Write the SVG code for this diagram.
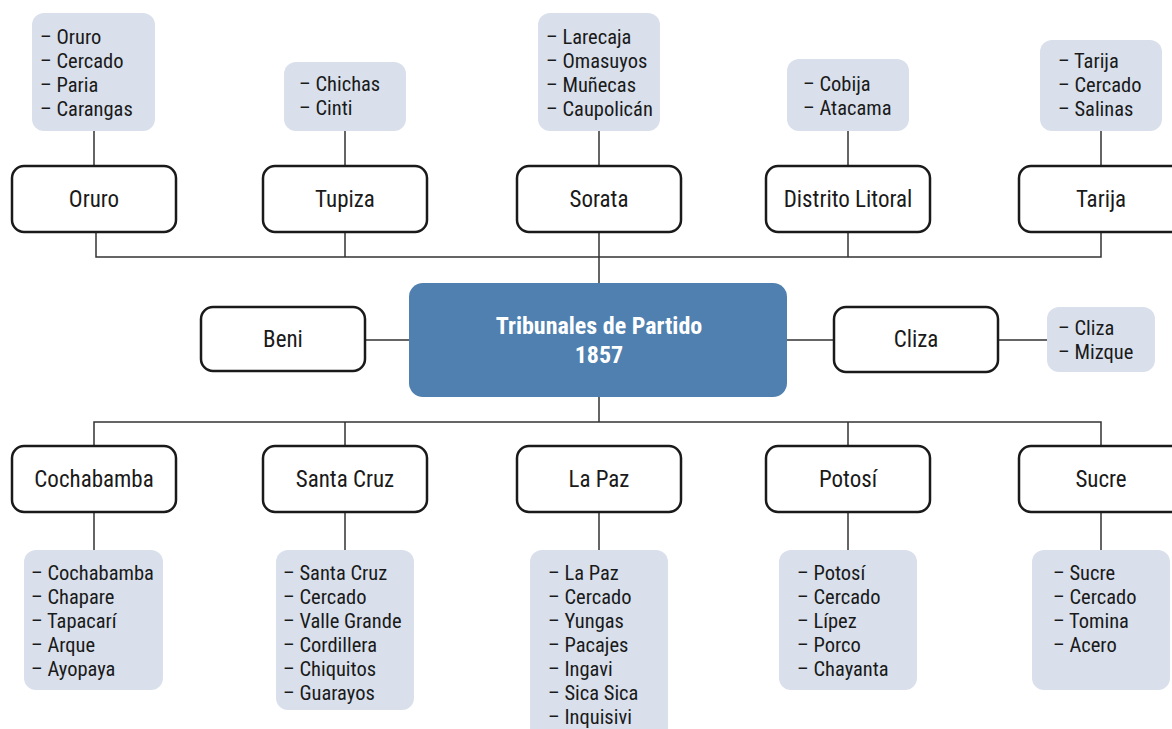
<svg xmlns="http://www.w3.org/2000/svg" width="1172" height="729" viewBox="0 0 1172 729">
<style>
text{font-family:"Liberation Sans Narrow","Roboto Condensed","DejaVu Sans Condensed","Liberation Sans",sans-serif;fill:#1a1a1a}
.node rect{fill:#fff;stroke:#1a1a1a;stroke-width:2.5}
.node text{font-size:23px;text-anchor:middle}
.list rect{fill:#d9e0ec;stroke:none}
.list text{font-size:20.5px}
.conn{stroke:#333;stroke-width:1.5;fill:none}
.center rect{fill:#4f80af}
.center text{fill:#fff;font-weight:bold;font-size:24px;text-anchor:middle}
</style>
<rect width="1172" height="729" fill="#fff"/>
<g id="connectors" class="conn">
<path d="M94 131V166M345 131V166M599 131V166M848 131V166M1101 131V166"/>
<path d="M96 232V257H1101V232M345 232V257M599 232V283M848 232V257"/>
<path d="M365 340H409M787 340H834M998 340H1047"/>
<path d="M599 397V422M94 446V422H1101V446M345 422V446M848 422V446"/>
<path d="M94 512V550M345 512V550M599 512V550M848 512V550M1101 512V550"/>
</g>
<g id="list-oruro" class="list"><rect x="32" y="13" width="123" height="118" rx="12"/>
<text x="40" y="44">– Oruro</text><text x="40" y="68">– Cercado</text><text x="40" y="92">– Paria</text><text x="40" y="116">– Carangas</text></g>
<g id="list-tupiza" class="list"><rect x="284" y="62" width="122" height="69" rx="12"/>
<text x="299" y="91">– Chichas</text><text x="299" y="115">– Cinti</text></g>
<g id="list-sorata" class="list"><rect x="538" y="13" width="122" height="118" rx="12"/>
<text x="546" y="44">– Larecaja</text><text x="546" y="68">– Omasuyos</text><text x="546" y="92">– Muñecas</text><text x="546" y="116">– Caupolicán</text></g>
<g id="list-litoral" class="list"><rect x="787" y="59" width="122" height="72" rx="12"/>
<text x="803" y="91">– Cobija</text><text x="803" y="115">– Atacama</text></g>
<g id="list-tarija" class="list"><rect x="1040" y="40" width="122" height="91" rx="12"/>
<text x="1058" y="68">– Tarija</text><text x="1058" y="92">– Cercado</text><text x="1058" y="116">– Salinas</text></g>
<g id="node-oruro" class="node"><rect x="12" y="166" width="164" height="66" rx="12"/><text x="94" y="207">Oruro</text></g>
<g id="node-tupiza" class="node"><rect x="263" y="166" width="164" height="66" rx="12"/><text x="345" y="207">Tupiza</text></g>
<g id="node-sorata" class="node"><rect x="517" y="166" width="164" height="66" rx="12"/><text x="599" y="207">Sorata</text></g>
<g id="node-litoral" class="node"><rect x="766" y="166" width="164" height="66" rx="12"/><text x="848" y="207">Distrito Litoral</text></g>
<g id="node-tarija" class="node"><rect x="1019" y="166" width="164" height="66" rx="12"/><text x="1101" y="207">Tarija</text></g>
<g id="node-center" class="center"><rect x="409" y="283" width="378" height="114" rx="14"/><text x="599" y="334">Tribunales de Partido</text><text x="599" y="363">1857</text></g>
<g id="node-beni" class="node"><rect x="201" y="307" width="164" height="64" rx="12"/><text x="283" y="347">Beni</text></g>
<g id="node-cliza" class="node"><rect x="834" y="307" width="164" height="65" rx="12"/><text x="916" y="347">Cliza</text></g>
<g id="list-cliza" class="list"><rect x="1047" y="307" width="108" height="65" rx="12"/>
<text x="1058" y="335">– Cliza</text><text x="1058" y="359">– Mizque</text></g>
<g id="node-cochabamba" class="node"><rect x="12" y="446" width="164" height="66" rx="12"/><text x="94" y="487">Cochabamba</text></g>
<g id="node-santacruz" class="node"><rect x="263" y="446" width="164" height="66" rx="12"/><text x="345" y="487">Santa Cruz</text></g>
<g id="node-lapaz" class="node"><rect x="517" y="446" width="164" height="66" rx="12"/><text x="599" y="487">La Paz</text></g>
<g id="node-potosi" class="node"><rect x="766" y="446" width="164" height="66" rx="12"/><text x="848" y="487">Potosí</text></g>
<g id="node-sucre" class="node"><rect x="1019" y="446" width="164" height="66" rx="12"/><text x="1101" y="487">Sucre</text></g>
<g id="list-cochabamba" class="list"><rect x="24" y="550" width="139" height="140" rx="12"/>
<text x="31" y="580">– Cochabamba</text><text x="31" y="604">– Chapare</text><text x="31" y="628">– Tapacarí</text><text x="31" y="652">– Arque</text><text x="31" y="676">– Ayopaya</text></g>
<g id="list-santacruz" class="list"><rect x="276" y="550" width="138" height="160" rx="12"/>
<text x="283" y="580">– Santa Cruz</text><text x="283" y="604">– Cercado</text><text x="283" y="628">– Valle Grande</text><text x="283" y="652">– Cordillera</text><text x="283" y="676">– Chiquitos</text><text x="283" y="700">– Guarayos</text></g>
<g id="list-lapaz" class="list"><rect x="530" y="550" width="138" height="195" rx="12"/>
<text x="548" y="580">– La Paz</text><text x="548" y="604">– Cercado</text><text x="548" y="628">– Yungas</text><text x="548" y="652">– Pacajes</text><text x="548" y="676">– Ingavi</text><text x="548" y="700">– Sica Sica</text><text x="548" y="724">– Inquisivi</text></g>
<g id="list-potosi" class="list"><rect x="779" y="550" width="138" height="140" rx="12"/>
<text x="797" y="580">– Potosí</text><text x="797" y="604">– Cercado</text><text x="797" y="628">– Lípez</text><text x="797" y="652">– Porco</text><text x="797" y="676">– Chayanta</text></g>
<g id="list-sucre" class="list"><rect x="1032" y="550" width="138" height="140" rx="12"/>
<text x="1053" y="580">– Sucre</text><text x="1053" y="604">– Cercado</text><text x="1053" y="628">– Tomina</text><text x="1053" y="652">– Acero</text></g>
</svg>
